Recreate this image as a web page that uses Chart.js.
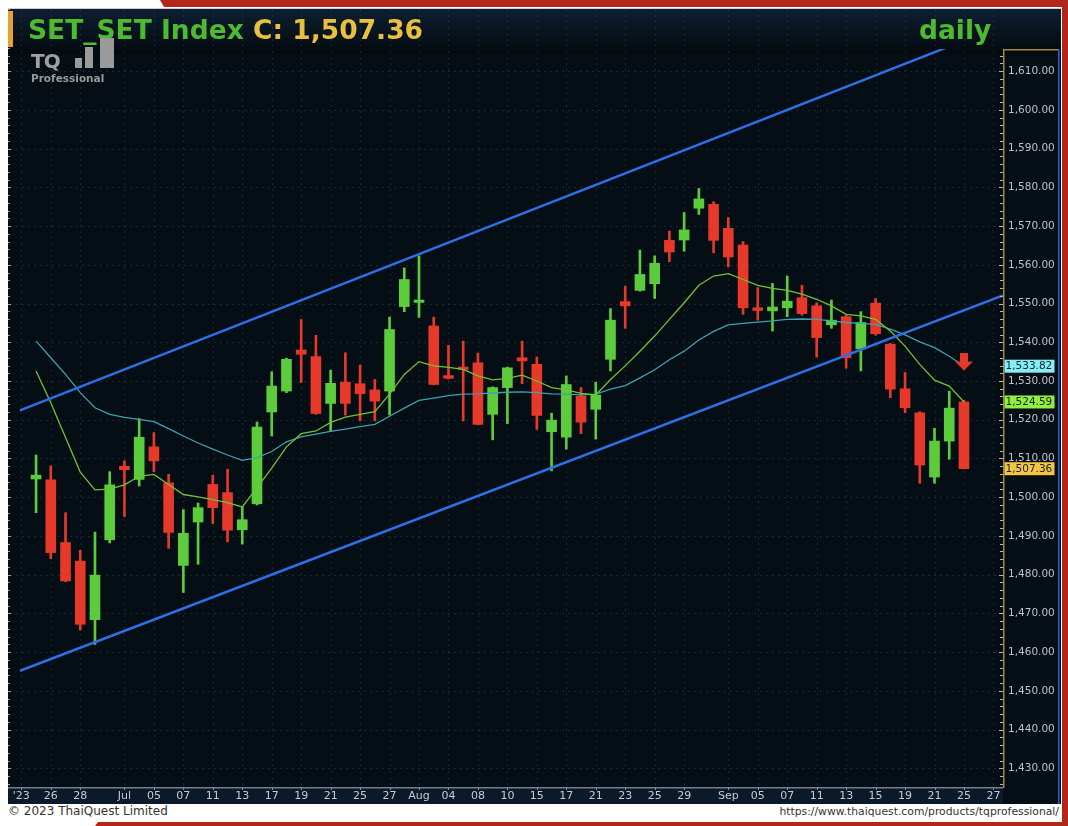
<!DOCTYPE html>
<html>
<head>
<meta charset="utf-8">
<script src="https://cdn.jsdelivr.net/npm/chart.js@4.4.0/dist/chart.umd.min.js"></script>
<style>
  body { margin: 0; width: 1068px; height: 826px; background: #fff; position: relative; overflow: hidden; font-family: 'DejaVu Sans', sans-serif; }
  .red-top { position: absolute; left: 160px; top: 0; width: 908px; height: 7px; background: #b3261c; clip-path: polygon(0 0, 100% 0, 100% 100%, 4px 100%); }
  .red-right { position: absolute; left: 1062px; top: 0; width: 6px; height: 826px; background: #b3261c; }
  .red-bottom { position: absolute; left: 95px; top: 822px; width: 973px; height: 4px; background: #b3261c; clip-path: polygon(3px 0, 100% 0, 100% 100%, 0 100%); }
  .panel { position: absolute; left: 8px; top: 8px; width: 1053px; height: 795px; background: #050d15; border-top: 1px solid #cfcfcf; box-sizing: border-box; }
  #chart { position: absolute; left: 0; top: 0; }
  .title { position: absolute; left: 20px; top: 5px; font-weight: bold; font-size: 26.5px; color: #4cbb30; white-space: nowrap; }
  .title .close { color: #e9bf3f; }
  .daily { position: absolute; left: 911px; top: 5px; font-weight: bold; font-size: 26.5px; color: #4cbb30; }
  .orange { position: absolute; left: 0; top: 2px; width: 5px; height: 36px; background: #e8a030; }
  .logo-tq { position: absolute; left: 23px; top: 40px; font-weight: bold; font-size: 20px; color: #a0a0a0; letter-spacing: -1px; }
  .logo-pro { position: absolute; left: 23px; top: 63px; font-weight: bold; font-size: 10.5px; color: #9a9a9a; }
  .bar { position: absolute; background: #9a9a9a; }
  .foot-l { position: absolute; left: 8px; top: 804px; font-size: 12px; color: #333; }
  .foot-r { position: absolute; right: 9px; top: 805px; font-size: 10.8px; color: #333; }
</style>
</head>
<body>
<div class="red-top"></div>
<div class="red-right"></div>
<div class="red-bottom"></div>
<div class="panel">
  <canvas id="chart" width="1053" height="795"></canvas>
  <div class="orange"></div>
  <div class="title">SET_SET Index <span class="close">C: 1,507.36</span></div>
  <div class="daily">daily</div>
  <div class="logo-tq">TQ</div>
  <div class="bar" style="left:67px;top:49px;width:7px;height:10px"></div>
  <div class="bar" style="left:77px;top:38px;width:8px;height:21px"></div>
  <div class="bar" style="left:92px;top:29px;width:14px;height:30px"></div>
  <div class="logo-pro">Professional</div>
</div>
<div class="foot-l">© 2023 ThaiQuest Limited</div>
<div class="foot-r">https://www.thaiquest.com/products/tqprofessional/</div>

<script>
// x positions are trading-day slots, 0 = first candle (23 Jun)
const tickIdx = [-1, 1, 3, 6, 8, 10, 12, 14, 16, 18, 20, 22, 24, 26, 28, 30, 32, 34, 36, 38, 40, 42, 44, 47, 49, 51, 53, 55, 57, 59, 61, 63, 65];
const tickText = ["'23", '26', '28', 'Jul', '05', '07', '11', '13', '17', '19', '21', '25', '27', 'Aug', '04', '08', '10', '15', '17', '21', '23', '25', '29', 'Sep', '05', '07', '11', '13', '15', '19', '21', '25', '27'];
const priceTicks = [1430, 1440, 1450, 1460, 1470, 1480, 1490, 1500, 1510, 1520, 1530, 1540, 1550, 1560, 1570, 1580, 1590, 1600, 1610];

const opens = [1504.7, 1504.5, 1488.3, 1483.5, 1468.4, 1489.0, 1508.0, 1504.6, 1513.0, 1503.7,
  1482.4, 1493.6, 1503.3, 1501.2, 1491.6, 1498.3, 1522.0, 1527.4, 1538.0, 1536.3,
  1524.2, 1529.7, 1529.3, 1527.7, 1527.4, 1549.2, 1550.3, 1544.2, 1531.4, 1533.6,
  1534.7, 1521.4, 1528.3, 1536.0, 1534.3, 1516.9, 1515.5, 1526.1, 1522.7, 1535.6,
  1550.5, 1553.4, 1555.1, 1566.3, 1566.4, 1574.6, 1575.6, 1569.4, 1565.1, 1548.9,
  1548.1, 1548.9, 1551.5, 1549.4, 1544.5, 1546.6, 1538.3, 1550.1, 1539.5, 1528.0,
  1521.8, 1505.2, 1514.5, 1524.6];
const highs = [1510.9, 1508.1, 1496.0, 1486.3, 1491.0, 1506.6, 1509.4, 1520.3, 1516.7, 1505.9,
  1496.8, 1498.5, 1505.7, 1507.2, 1497.5, 1519.4, 1532.4, 1535.9, 1545.9, 1541.8,
  1532.8, 1537.3, 1534.1, 1530.4, 1546.5, 1559.2, 1562.3, 1546.5, 1539.2, 1540.3,
  1537.2, 1528.5, 1533.6, 1540.3, 1536.2, 1521.7, 1531.3, 1528.3, 1529.7, 1548.7,
  1554.5, 1563.8, 1562.3, 1568.7, 1573.5, 1579.7, 1576.3, 1572.2, 1566.0, 1554.1,
  1555.2, 1557.1, 1554.7, 1550.2, 1550.9, 1547.0, 1547.9, 1551.3, 1539.7, 1532.2,
  1522.1, 1517.8, 1527.4, 1525.0];
const lows = [1496.0, 1484.1, 1478.2, 1465.7, 1462.0, 1488.2, 1495.0, 1502.9, 1506.6, 1486.8,
  1475.4, 1482.7, 1493.2, 1488.5, 1487.9, 1498.0, 1515.8, 1527.0, 1529.6, 1521.4,
  1517.1, 1521.2, 1519.7, 1519.7, 1521.2, 1547.9, 1546.4, 1529.0, 1530.5, 1519.7,
  1518.7, 1514.8, 1519.0, 1529.3, 1517.5, 1506.8, 1512.4, 1516.4, 1515.0, 1532.6,
  1543.6, 1553.2, 1551.3, 1560.8, 1563.5, 1573.0, 1563.1, 1559.5, 1547.2, 1545.7,
  1542.9, 1546.6, 1547.0, 1536.2, 1543.6, 1533.3, 1532.6, 1541.8, 1525.7, 1521.8,
  1503.6, 1503.6, 1509.8, 1507.3];
const closes = [1505.7, 1485.7, 1478.4, 1467.2, 1479.9, 1503.2, 1507.1, 1515.5, 1509.4, 1490.9,
  1490.7, 1497.3, 1497.3, 1491.5, 1494.2, 1518.1, 1528.7, 1535.6, 1536.9, 1521.6,
  1529.4, 1524.2, 1526.7, 1524.8, 1543.3, 1556.2, 1550.9, 1529.1, 1530.7, 1533.0,
  1518.8, 1528.3, 1533.4, 1535.2, 1521.1, 1519.9, 1529.1, 1519.4, 1526.4, 1545.7,
  1549.4, 1557.5, 1560.4, 1563.3, 1569.0, 1577.0, 1566.3, 1562.0, 1548.9, 1548.2,
  1549.1, 1550.6, 1547.4, 1541.2, 1545.7, 1536.0, 1545.1, 1542.2, 1527.9, 1523.1,
  1508.3, 1514.5, 1523.0, 1507.36];

// moving averages as drawn on the chart
const maFast = [1532.6, 1524.4, 1515.4, 1506.5, 1501.9, 1502.1, 1503.2, 1505.4, 1505.9, 1503.3,
  1500.7, 1500.1, 1499.4, 1498.6, 1497.5, 1502.5, 1507.5, 1513.0, 1516.4, 1517.1,
  1519.3, 1520.7, 1521.4, 1522.1, 1526.6, 1531.7, 1535.0, 1533.9, 1533.5, 1533.0,
  1531.3, 1530.3, 1530.7, 1531.5, 1530.0, 1528.3, 1527.7, 1526.8, 1526.4, 1530.4,
  1533.9, 1537.7, 1541.6, 1545.9, 1550.2, 1554.7, 1557.1, 1557.7, 1556.2, 1554.7,
  1553.9, 1553.4, 1552.4, 1551.1, 1549.4, 1547.2, 1546.8, 1545.9, 1542.9, 1539.0,
  1534.3, 1530.2, 1528.7, 1524.59];
const maSlow = [1540.3, 1536.0, 1531.7, 1527.0, 1523.1, 1521.4, 1520.6, 1520.1, 1519.5, 1517.7,
  1515.8, 1514.0, 1512.4, 1510.9, 1509.5, 1510.2, 1511.8, 1514.3, 1515.6, 1516.3,
  1517.0, 1517.6, 1518.2, 1518.8, 1520.9, 1523.0, 1525.0, 1525.6, 1526.2, 1526.6,
  1526.7, 1526.9, 1527.1, 1527.2, 1527.0, 1526.7, 1526.6, 1526.4, 1526.6, 1527.9,
  1528.8, 1530.8, 1532.9, 1535.5, 1537.7, 1540.6, 1542.8, 1544.5, 1544.9, 1545.2,
  1545.5, 1545.9, 1546.0, 1545.9, 1545.5, 1545.1, 1544.9, 1544.6, 1543.4, 1541.9,
  1540.1, 1538.6, 1536.4, 1533.82];

// trend channel end points [slot, price]
const upperChannel = [[-1.09, 1522.4], [62.5, 1617.1]];
const lowerChannel = [[-1.09, 1455.2], [65.65, 1552.1]];
const signalIdx = 63;
const signalPrice = 1534.9;

const UP = '#5ccc3c';
const DOWN = '#e6392a';

const candleColors = closes.map((c, i) => c >= opens[i] ? UP : DOWN);
const wickData = lows.map((l, i) => ({ x: i, y: [l, highs[i]] }));
const bodyData = opens.map((o, i) => ({ x: i, y: [o, closes[i]] }));
const toXY = arr => arr.map((v, i) => ({ x: i, y: v }));
const pairXY = arr => arr.map(p => ({ x: p[0], y: p[1] }));

function fmt(v) {
  return v.toLocaleString('en-US', { minimumFractionDigits: 2, maximumFractionDigits: 2 });
}

// red down arrow marker
const arrow = document.createElement('canvas');
arrow.width = 20; arrow.height = 19;
(function () {
  const c = arrow.getContext('2d');
  c.fillStyle = DOWN;
  c.fillRect(6, 0, 8, 10);
  c.beginPath(); c.moveTo(1, 9); c.lineTo(19, 9); c.lineTo(10, 18); c.closePath(); c.fill();
})();

const frame = {
  id: 'frame',
  beforeDraw(chart) {
    const { ctx, chartArea: a, width, height } = chart;
    ctx.save();
    const g = ctx.createLinearGradient(0, 0, 0, 45);
    g.addColorStop(0, '#0c1f30');
    g.addColorStop(1, '#04090e');
    ctx.fillStyle = g;
    ctx.fillRect(0, 0, width, 45);
    ctx.fillStyle = '#050d15';
    ctx.fillRect(0, 45, width, height - 45);
    // time axis band
    ctx.fillStyle = '#0b1a29';
    ctx.fillRect(0, a.bottom, a.right, height - a.bottom);
    ctx.fillStyle = '#6f7f8f';
    ctx.fillRect(0, a.bottom, a.right, 1.5);
    // dotted grid
    const x = chart.scales.x, y = chart.scales.y;
    ctx.strokeStyle = 'rgba(70,90,110,0.35)';
    ctx.lineWidth = 1;
    ctx.setLineDash([2, 4]);
    tickIdx.forEach(t => {
      const px = Math.round(x.getPixelForValue(t)) + 0.5;
      ctx.beginPath(); ctx.moveTo(px, 0); ctx.lineTo(px, a.bottom); ctx.stroke();
      ctx.setLineDash([]);
      ctx.fillStyle = '#7f8f9f';
      ctx.fillRect(px - 0.5, a.bottom, 1, 3);
      ctx.setLineDash([2, 4]);
    });
    priceTicks.forEach(p => {
      const py = Math.round(y.getPixelForValue(p)) + 0.5;
      ctx.beginPath(); ctx.moveTo(a.left, py); ctx.lineTo(a.right, py); ctx.stroke();
    });
    ctx.setLineDash([]);
    // left ruler marks
    ctx.fillStyle = '#9aa4ae';
    for (let p = 1426; p <= 1640; p += 2) {
      const py = Math.round(y.getPixelForValue(p));
      if (py < 0 || py > a.bottom) continue;
      ctx.fillRect(0, py, p % 10 === 0 ? 3 : 2, 1);
    }
    ctx.restore();
  },
  afterDraw(chart) {
    const { ctx, chartArea: a, height } = chart;
    const y = chart.scales.y;
    ctx.save();
    // price axis box
    ctx.fillStyle = '#a08a42';
    ctx.fillRect(a.right, a.top, 1.5, a.bottom - a.top + 1);
    ctx.fillRect(a.right, a.top, 55, 1.5);
    ctx.fillStyle = '#2f5fd0';
    ctx.fillRect(a.right + 55, a.top, 1.5, height - a.top);
    ctx.fillStyle = '#b8b8b0';
    for (let p = 1426; p <= 1615; p += 2) {
      const py = Math.round(y.getPixelForValue(p));
      ctx.fillRect(a.right - (p % 10 === 0 ? 4 : 3), py, p % 10 === 0 ? 4 : 3, 1);
    }
    // last-value boxes
    const boxes = [
      [maSlow[maSlow.length - 1], '#86eef6'],
      [maFast[maFast.length - 1], '#93ee3e'],
      [closes[closes.length - 1], '#f4c544']
    ];
    ctx.font = '10.5px "DejaVu Sans"';
    ctx.textBaseline = 'middle';
    boxes.forEach(([v, col]) => {
      const py = y.getPixelForValue(v);
      ctx.fillStyle = col;
      ctx.fillRect(a.right + 1.5, py - 6.5, 50, 13);
      ctx.fillStyle = '#14202c';
      ctx.fillText(fmt(v), a.right + 2.5, py + 0.5);
    });
    ctx.restore();
  }
};

new Chart(document.getElementById('chart'), {
  type: 'bar',
  data: {
    datasets: [
      { type: 'line', data: pairXY(upperChannel), borderColor: '#2f6fe6', borderWidth: 2.5, pointRadius: 0, clip: 0, order: 0 },
      { type: 'line', data: pairXY(lowerChannel), borderColor: '#2f6fe6', borderWidth: 2.5, pointRadius: 0, clip: 0, order: 0 },
      { type: 'line', data: [{ x: signalIdx, y: signalPrice }], showLine: false, pointStyle: arrow, pointRadius: 10, order: 0 },
      { type: 'line', data: toXY(maFast), borderColor: '#72c234', borderWidth: 1.3, pointRadius: 0, order: 1 },
      { type: 'line', data: toXY(maSlow), borderColor: '#3ba2b2', borderWidth: 1.3, pointRadius: 0, order: 1 },
      { data: bodyData, backgroundColor: candleColors, barThickness: 10, grouped: false, order: 2 },
      { data: wickData, backgroundColor: candleColors, barThickness: 2, grouped: false, order: 3 }
    ]
  },
  options: {
    responsive: false,
    animation: false,
    layout: { autoPadding: false, padding: { left: 2, right: 3, top: 40, bottom: 0 } },
    plugins: { legend: { display: false }, tooltip: { enabled: false } },
    scales: {
      x: {
        type: 'linear', min: -1.77, max: 65.65, offset: false,
        grid: { display: false, drawTicks: false, tickLength: 0, offset: false },
        border: { display: false },
        afterBuildTicks: s => { s.ticks = tickIdx.map(v => ({ value: v })); },
        afterFit: s => { s.height = 17; s.paddingLeft = 0; s.paddingRight = 0; },
        ticks: {
          autoSkip: false, maxRotation: 0, padding: 3,
          color: '#c4ccd4', font: { family: 'DejaVu Sans', size: 11 },
          callback: (v) => tickText[tickIdx.indexOf(v)]
        }
      },
      y: {
        type: 'linear', position: 'right', min: 1425.2, max: 1615.7,
        grid: { display: false, drawTicks: false, tickLength: 0 },
        border: { display: false },
        afterBuildTicks: s => { s.ticks = priceTicks.map(v => ({ value: v })); },
        afterFit: s => { s.width = 55; s.paddingTop = 0; s.paddingBottom = 0; },
        ticks: {
          padding: 5, color: '#bcc2ca', font: { family: 'DejaVu Sans', size: 10.5 },
          callback: v => fmt(v)
        }
      }
    }
  },
  plugins: [frame]
});
</script>
</body>
</html>
